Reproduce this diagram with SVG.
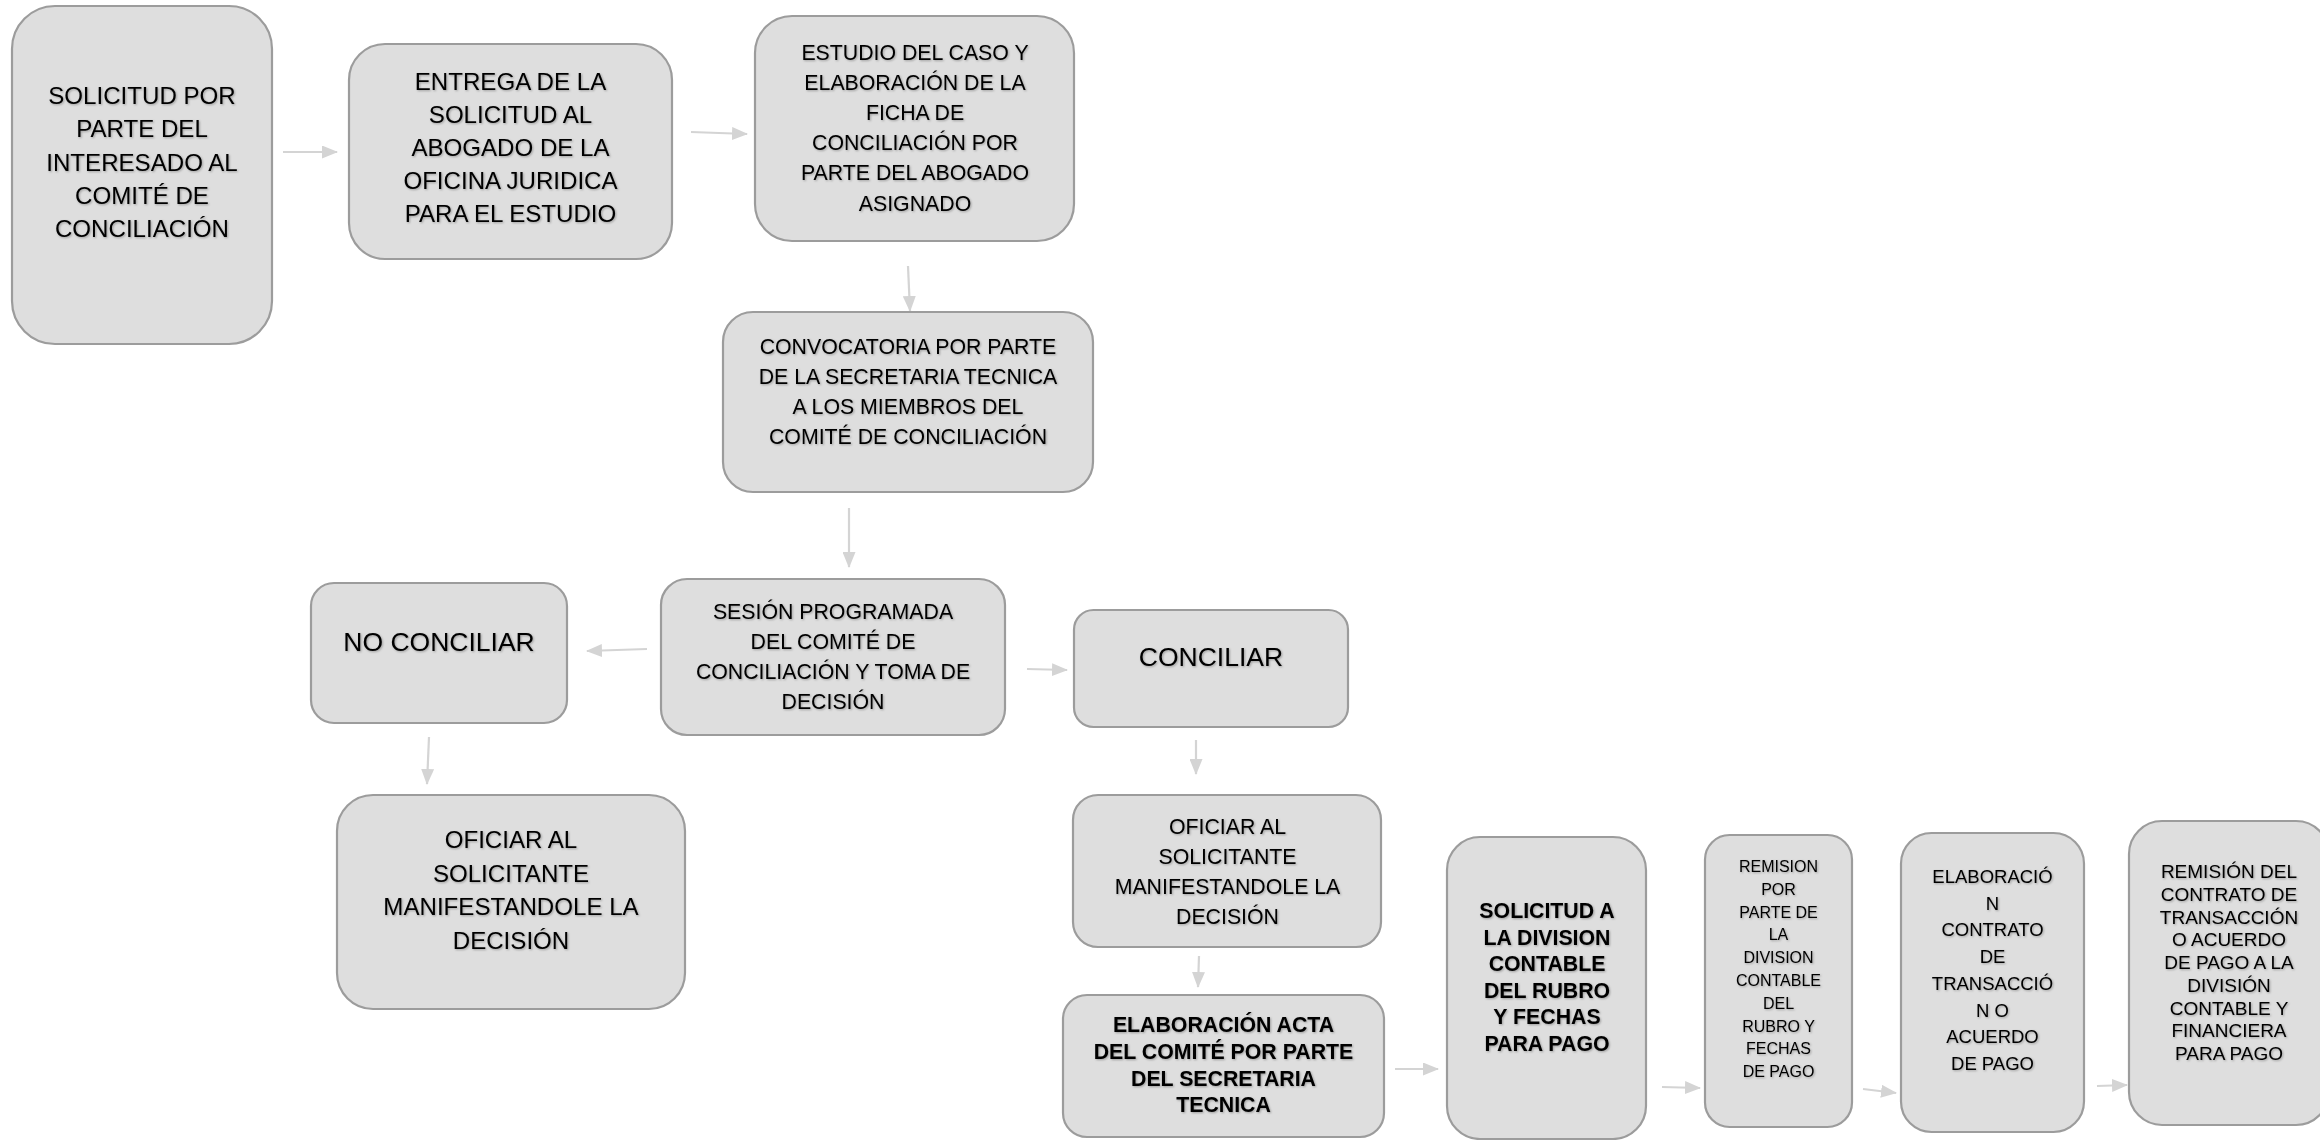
<svg xmlns="http://www.w3.org/2000/svg" width="2320" height="1140" viewBox="0 0 2320 1140">
<style>
.box{fill:#dedede;stroke:#9c9c9c;stroke-width:2.2}
text{font-family:"Liberation Sans",Arial,sans-serif;fill:#000;text-anchor:middle;filter:url(#ts)}
.b{font-weight:bold}
.con line{stroke:#d4d4d4;stroke-width:2.2;marker-end:url(#ah)}
</style>
<defs>
<filter id="ts" x="-5%" y="-20%" width="110%" height="140%">
<feDropShadow dx="1" dy="1" stdDeviation="0.8" flood-color="#000" flood-opacity="0.3"/>
</filter>
<marker id="ah" markerUnits="userSpaceOnUse" markerWidth="16" markerHeight="13" refX="15" refY="6.5" orient="auto">
<path d="M0,0 L16,6.5 L0,13 z" fill="#d4d4d4"/>
</marker>
</defs>
<rect width="2320" height="1140" fill="#fff"/>
<g class="con" id="connectors">
<line x1="283" y1="152" x2="337" y2="152"/>
<line x1="691" y1="132" x2="747" y2="134"/>
<line x1="908" y1="266" x2="910" y2="311"/>
<line x1="849" y1="508" x2="849" y2="567"/>
<line x1="647" y1="649" x2="587" y2="651"/>
<line x1="1027" y1="669" x2="1067" y2="670"/>
<line x1="429" y1="737" x2="427" y2="784"/>
<line x1="1196" y1="740" x2="1196" y2="774"/>
<line x1="1199" y1="956" x2="1198" y2="987"/>
<line x1="1395" y1="1069" x2="1438" y2="1069"/>
<line x1="1662" y1="1087" x2="1700" y2="1088"/>
<line x1="1863" y1="1089" x2="1896" y2="1093"/>
<line x1="2097" y1="1086" x2="2127" y2="1085"/>
</g>
<g id="n1">
<rect class="box" x="12" y="6" width="260" height="338" rx="43"/>
<text font-size="24.1"><tspan x="142" y="104">SOLICITUD POR</tspan><tspan x="142" y="137.3">PARTE DEL</tspan><tspan x="142" y="170.6">INTERESADO AL</tspan><tspan x="142" y="204">COMITÉ DE</tspan><tspan x="142" y="237.2">CONCILIACIÓN</tspan></text>
</g>
<g id="n2">
<rect class="box" x="349" y="44" width="323" height="215" rx="36"/>
<text font-size="24.1"><tspan x="510.5" y="90">ENTREGA DE LA</tspan><tspan x="510.5" y="123">SOLICITUD AL</tspan><tspan x="510.5" y="156">ABOGADO DE LA</tspan><tspan x="510.5" y="189">OFICINA JURIDICA</tspan><tspan x="510.5" y="222">PARA EL ESTUDIO</tspan></text>
</g>
<g id="n3">
<rect class="box" x="755" y="16" width="319" height="225" rx="37"/>
<text font-size="21.3"><tspan x="915" y="59.5">ESTUDIO DEL CASO Y</tspan><tspan x="915" y="89.7">ELABORACIÓN DE LA</tspan><tspan x="915" y="119.9">FICHA DE</tspan><tspan x="915" y="150.1">CONCILIACIÓN POR</tspan><tspan x="915" y="180.3">PARTE DEL ABOGADO</tspan><tspan x="915" y="210.5">ASIGNADO</tspan></text>
</g>
<g id="n4">
<rect class="box" x="723" y="312" width="370" height="180" rx="30"/>
<text font-size="21.3"><tspan x="908" y="354">CONVOCATORIA POR PARTE</tspan><tspan x="908" y="384">DE LA SECRETARIA TECNICA</tspan><tspan x="908" y="414">A LOS MIEMBROS DEL</tspan><tspan x="908" y="444">COMITÉ DE CONCILIACIÓN</tspan></text>
</g>
<g id="n5">
<rect class="box" x="661" y="579" width="344" height="156" rx="26"/>
<text font-size="21.3"><tspan x="833" y="619">SESIÓN PROGRAMADA</tspan><tspan x="833" y="649">DEL COMITÉ DE</tspan><tspan x="833" y="679">CONCILIACIÓN Y TOMA DE</tspan><tspan x="833" y="709">DECISIÓN</tspan></text>
</g>
<g id="n6">
<rect class="box" x="311" y="583" width="256" height="140" rx="23"/>
<text font-size="26.5" x="439" y="650.5">NO CONCILIAR</text>
</g>
<g id="n7">
<rect class="box" x="1074" y="610" width="274" height="117" rx="19.5"/>
<text font-size="26.5" x="1211" y="666">CONCILIAR</text>
</g>
<g id="n8">
<rect class="box" x="337" y="795" width="348" height="214" rx="36"/>
<text font-size="24.1"><tspan x="511" y="848">OFICIAR AL</tspan><tspan x="511" y="881.5">SOLICITANTE</tspan><tspan x="511" y="915">MANIFESTANDOLE LA</tspan><tspan x="511" y="948.5">DECISIÓN</tspan></text>
</g>
<g id="n9">
<rect class="box" x="1073" y="795" width="308" height="152" rx="25"/>
<text font-size="21.3"><tspan x="1227.5" y="834">OFICIAR AL</tspan><tspan x="1227.5" y="864">SOLICITANTE</tspan><tspan x="1227.5" y="894">MANIFESTANDOLE LA</tspan><tspan x="1227.5" y="924">DECISIÓN</tspan></text>
</g>
<g id="n10">
<rect class="box" x="1063" y="995" width="321" height="142" rx="24"/>
<text class="b" font-size="21.3"><tspan x="1223.5" y="1032">ELABORACIÓN ACTA</tspan><tspan x="1223.5" y="1058.8">DEL COMITÉ POR PARTE</tspan><tspan x="1223.5" y="1085.6">DEL SECRETARIA</tspan><tspan x="1223.5" y="1112.4">TECNICA</tspan></text>
</g>
<g id="n11">
<rect class="box" x="1447" y="837" width="199" height="302" rx="33"/>
<text class="b" font-size="21.3"><tspan x="1547" y="918">SOLICITUD A</tspan><tspan x="1547" y="944.6">LA DIVISION</tspan><tspan x="1547" y="971.2">CONTABLE</tspan><tspan x="1547" y="997.8">DEL RUBRO</tspan><tspan x="1547" y="1024.4">Y FECHAS</tspan><tspan x="1547" y="1051">PARA PAGO</tspan></text>
</g>
<g id="n12">
<rect class="box" x="1705" y="835" width="147" height="292" rx="24.5"/>
<text font-size="16"><tspan x="1778.5" y="872">REMISION</tspan><tspan x="1778.5" y="894.8">POR</tspan><tspan x="1778.5" y="917.6">PARTE DE</tspan><tspan x="1778.5" y="940.4">LA</tspan><tspan x="1778.5" y="963.2">DIVISION</tspan><tspan x="1778.5" y="986">CONTABLE</tspan><tspan x="1778.5" y="1008.8">DEL</tspan><tspan x="1778.5" y="1031.6">RUBRO Y</tspan><tspan x="1778.5" y="1054.4">FECHAS</tspan><tspan x="1778.5" y="1077.2">DE PAGO</tspan></text>
</g>
<g id="n13">
<rect class="box" x="1901" y="833" width="183" height="299" rx="30.5"/>
<text font-size="18.5"><tspan x="1992.5" y="883">ELABORACIÓ</tspan><tspan x="1992.5" y="909.7">N</tspan><tspan x="1992.5" y="936.4">CONTRATO</tspan><tspan x="1992.5" y="963.1">DE</tspan><tspan x="1992.5" y="989.8">TRANSACCIÓ</tspan><tspan x="1992.5" y="1016.5">N O</tspan><tspan x="1992.5" y="1043.2">ACUERDO</tspan><tspan x="1992.5" y="1069.9">DE PAGO</tspan></text>
</g>
<g id="n14">
<rect class="box" x="2129" y="821" width="200" height="304" rx="33"/>
<text font-size="19"><tspan x="2229" y="878">REMISIÓN DEL</tspan><tspan x="2229" y="900.75">CONTRATO DE</tspan><tspan x="2229" y="923.5">TRANSACCIÓN</tspan><tspan x="2229" y="946.25">O ACUERDO</tspan><tspan x="2229" y="969">DE PAGO A LA</tspan><tspan x="2229" y="991.75">DIVISIÓN</tspan><tspan x="2229" y="1014.5">CONTABLE Y</tspan><tspan x="2229" y="1037.25">FINANCIERA</tspan><tspan x="2229" y="1060">PARA PAGO</tspan></text>
</g>
</svg>
